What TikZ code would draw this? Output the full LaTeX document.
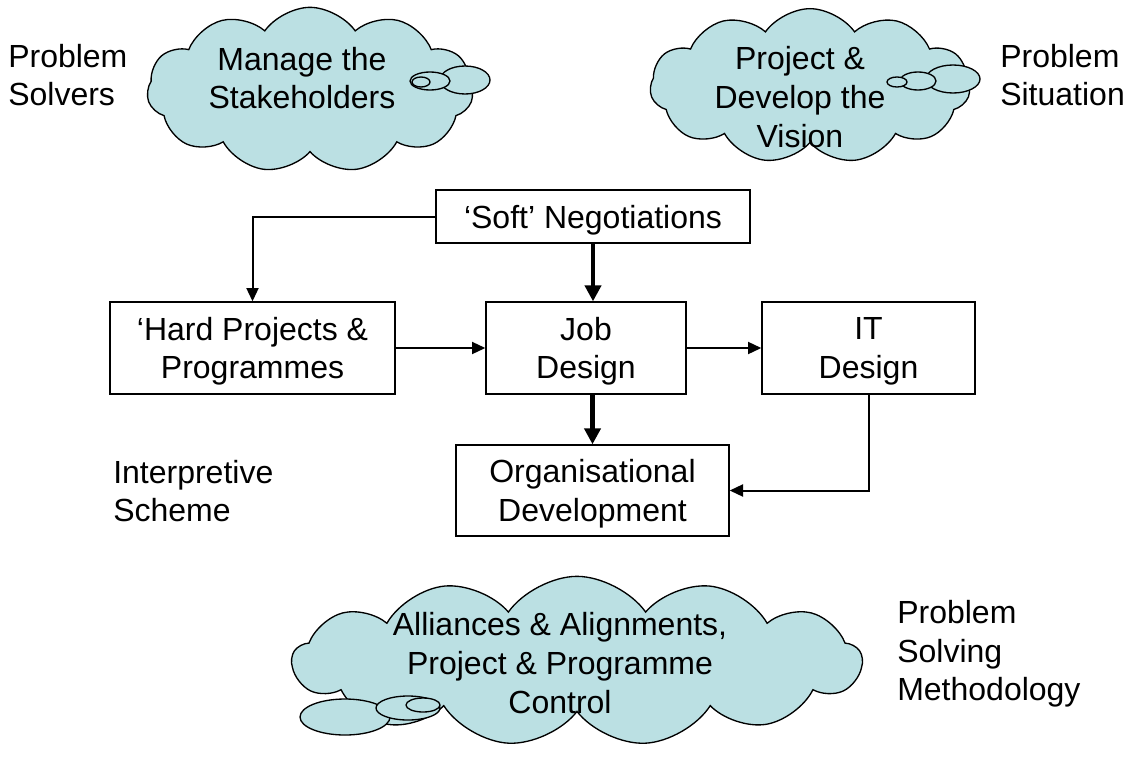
\documentclass[tikz,border=0pt]{standalone}
\usepackage{fontspec}
\setmainfont{Liberation Sans}
\usetikzlibrary{shapes.symbols,shapes.geometric,arrows.meta}
\definecolor{cloudfill}{RGB}{187,224,227}
\begin{document}
\begin{tikzpicture}[x=0.75pt,y=-0.75pt,
  font=\fontsize{24}{29}\selectfont,
  box/.style={draw,line width=1pt,fill=white,align=center,inner sep=0pt,text depth=0pt},
  arrthin/.style={line width=1.5pt,-{Triangle[length=10pt,width=9pt]}},
  arrthick/.style={line width=3.5pt,-{Triangle[length=12pt,width=12pt]}},
  cloudbody/.style={cloud,draw,fill=cloudfill,line width=1pt,cloud puffs=11,cloud puff arc=110,inner sep=0pt},
  bubble/.style={draw,fill=cloudfill,line width=1pt},
  label/.style={align=left,anchor=west,inner sep=0pt},
  ctext/.style={align=center,inner sep=0pt}]
\useasboundingbox[fill=white] (0,0) rectangle (1141,760);

% clouds
\node[cloudbody,minimum width=244.5pt,minimum height=124pt] (c1) at (310,90) {};
\draw[bubble] (465,80) ellipse [x radius=25, y radius=14];
\draw[bubble] (430,81) ellipse [x radius=20, y radius=9];
\draw[bubble] (421,82) ellipse [x radius=9, y radius=5];
\node[ctext] (t1) at (302,78) {Manage the\\Stakeholders};

\node[cloudbody,minimum width=240pt,minimum height=116pt] (c2) at (810,86) {};
\draw[bubble] (953,79) ellipse [x radius=27, y radius=14];
\draw[bubble] (918,81) ellipse [x radius=18, y radius=9];
\draw[bubble] (897,82) ellipse [x radius=10, y radius=5];
\node[ctext] (t2) at (800,97) {Project \&\\Develop the\\Vision};

\node[cloudbody,cloud puffs=13,minimum width=427pt,minimum height=127pt] (c3) at (577,661) {};
\draw[bubble] (345,717) ellipse [x radius=45, y radius=18];
\draw[bubble] (408,708) ellipse [x radius=32, y radius=12];
\draw[bubble] (423,705) ellipse [x radius=17, y radius=7];
\node[ctext] (t3) at (560,663) {Alliances \& Alignments,\\Project \& Programme\\Control};

% side labels
\node[label] (l1) at (8,75) {Problem\\Solvers};
\node[label] (l2) at (1000,75) {Problem\\Situation};
\node[label] (l3) at (113,491) {Interpretive\\Scheme};
\node[label] (l4) at (897,654) {Problem\\Solving\\Methodology};

% boxes
\node[box,minimum width=235.5pt,minimum height=39.75pt] (soft) at (593,216.5) {‘Soft’ Negotiations};
\node[box,minimum width=213.75pt,minimum height=69pt] (hard) at (252.5,348) {‘Hard Projects \&\\Programmes};
\node[box,minimum width=150pt,minimum height=69pt] (job) at (586,348) {Job\\Design};
\node[box,minimum width=159.75pt,minimum height=69pt] (it) at (868.5,348) {IT\\Design};
\node[box,minimum width=204.75pt,minimum height=68.25pt] (org) at (592.5,490.5) {Organisational\\Development};

% connectors
\draw[arrthin] (soft.west) -| (hard.north);
\draw[arrthick] (soft.south) -- (soft.south |- job.north);
\draw[arrthin] (hard.east) -- (job.west);
\draw[arrthin] (job.east) -- (it.west);
\draw[arrthick] (org.north |- job.south) -- (org.north);
\draw[arrthin] (it.south) |- (org.east);
\end{tikzpicture}
\end{document}
